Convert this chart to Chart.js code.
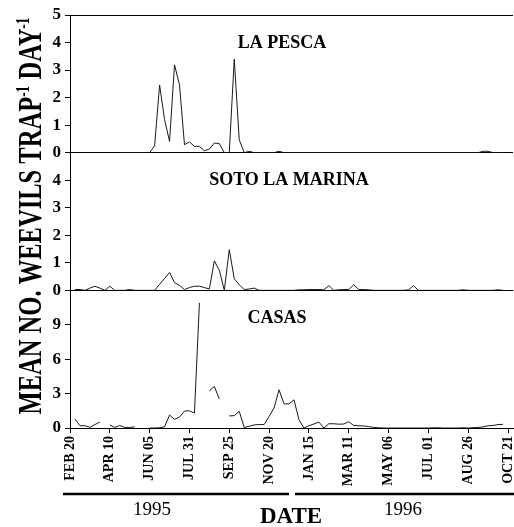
<!DOCTYPE html>
<html>
<head>
<meta charset="utf-8">
<script src="https://cdn.jsdelivr.net/npm/chart.js@4.4.0/dist/chart.umd.min.js"></script>
<style>
  html, body { margin: 0; padding: 0; background: #fff; }
  canvas { display: block; }
</style>
</head>
<body>
<canvas id="weevils" width="514" height="527"></canvas>
<script>
// date axis labels, one every 8 weeks from 20 Feb 1995
const dateLabels = ['FEB 20', 'APR 10', 'JUN 05', 'JUL 31', 'SEP 25', 'NOV 20',
                    'JAN 15', 'MAR 11', 'MAY 06', 'JUL 01', 'AUG 26', 'OCT 21'];
const yearLabels = ['1995', '1996'];
const panelNames = ['LA PESCA', 'SOTO LA MARINA', 'CASAS'];

// weekly means, week 0 = FEB 20 1995, null = no sample
const laPesca = [
  null, null, null, null, null, null, null, null, null, null,
  0, 0, 0, 0, 0, 0, 0, 0.25, 2.46, 1.2,
  0.41, 3.19, 2.46, 0.29, 0.39, 0.23, 0.23, 0.07, 0.13, 0.35,
  0.33, 0, 0, 3.4, 0.47, 0, 0.05, 0, 0, 0,
  0, 0, 0.05, 0, 0, 0, 0, 0, 0, 0,
  0, 0, 0, 0, 0, 0, 0, 0, 0, 0,
  0, 0, 0, 0, 0, 0, 0, 0, 0, 0,
  0, 0, 0, 0, 0, 0, 0, 0, 0, 0,
  0, 0, 0, 0.05, 0.05, 0, 0, 0
];
const sotoLaMarina = [
  null, 0.03, 0.03, 0, 0.08, 0.15, 0.08, 0, 0.15, 0,
  0, 0, 0.03, 0, 0, 0, 0, 0, 0.22, 0.43,
  0.65, 0.28, 0.18, 0.03, 0.1, 0.15, 0.15, 0.1, 0.05, 1.07,
  0.73, 0, 1.48, 0.42, 0.2, 0.03, 0.05, 0.08, 0, 0,
  0, 0, 0, 0, 0, 0, 0.02, 0.02, 0.03, 0.03,
  0.03, 0.02, 0.17, 0, 0.02, 0.03, 0.03, 0.2, 0.03, 0.03,
  0.02, 0, 0, 0, 0, 0, 0, 0, 0.02, 0.17,
  0, 0, 0, 0, 0, 0, 0, 0, 0, 0.02,
  0, 0, 0, 0, 0, 0, 0.02, 0
];
const casas = [
  null, 0.78, 0.2, 0.2, 0.05, 0.3, 0.52, null, 0.26, 0.05,
  0.22, 0.05, 0.05, 0.1, null, null, 0, 0, 0.02, 0.1,
  1.13, 0.75, 0.95, 1.48, 1.5, 1.3, 10.9, null, 3.24, 3.62,
  2.52, null, 1.05, 1.08, 1.45, 0.05, 0.15, 0.27, 0.3, 0.3,
  1.0, 1.75, 3.33, 2.1, 2.1, 2.46, 0.72, 0, 0.2, 0.35,
  0.52, 0, 0.37, 0.37, 0.33, 0.35, 0.55, 0.22, 0.2, 0.18,
  0.12, 0.06, 0.02, 0, 0, 0, 0, 0, 0, 0,
  0, 0, 0, 0.02, 0.02, 0, 0, 0, 0, 0.02,
  0, 0.03, 0.05, 0.1, 0.2, 0.22, 0.3, 0.32
];

const serif = "'Liberation Serif', 'Times New Roman', serif";
Chart.defaults.font.family = serif;
Chart.defaults.color = '#000';

function toPoints(values) {
  return values.map((v, i) => ({ x: i, y: v }));
}

function panelAxis(max, step, showMax) {
  return {
    type: 'linear',
    position: 'left',
    stack: 'panels',
    stackWeight: 1,
    min: 0,
    max: max,
    ticks: {
      stepSize: step,
      autoSkip: false,
      padding: 4,
      font: { size: 17, weight: 'bold' },
      callback: v => (v === max && !showMax) ? '' : v
    },
    grid: {
      drawOnChartArea: true,
      tickLength: 5,
      tickColor: '#000',
      color: c => (c.tick && (c.tick.value === 0 || (showMax && c.tick.value === max))) ? '#000' : 'rgba(0,0,0,0)'
    },
    border: { display: true, color: '#000', width: 1 },
    afterFit: s => { s.width = 70; s.paddingTop = 0; s.paddingBottom = 0; }
  };
}

// titles, year bars and the rotated y title
const decorations = {
  id: 'decorations',
  afterDraw(chart) {
    const ctx = chart.ctx;
    const area = chart.chartArea;
    const xs = chart.scales.x;
    ctx.save();
    ctx.fillStyle = '#000';
    ctx.strokeStyle = '#000';

    // panel names
    ctx.font = 'bold 18px ' + serif;
    ctx.textAlign = 'center';
    ctx.textBaseline = 'middle';
    const axes = ['yPesca', 'ySoto', 'yCasas'];
    const centres = [282, 289, 277];
    axes.forEach((id, i) => {
      const s = chart.scales[id];
      ctx.fillText(panelNames[i], centres[i], s.top + 28);
    });

    // year bars under the date labels
    const split = xs.getPixelForValue(44.6);
    const barY = area.bottom + 66;
    ctx.lineWidth = 2.5;
    ctx.beginPath();
    ctx.moveTo(area.left - 7, barY);
    ctx.lineTo(split - 3, barY);
    ctx.moveTo(split + 3, barY);
    ctx.lineTo(chart.width, barY);
    ctx.stroke();

    ctx.font = '19px ' + serif;
    ctx.textBaseline = 'alphabetic';
    ctx.fillText(yearLabels[0], 152, barY + 21);
    ctx.fillText(yearLabels[1], 403, barY + 21);

    ctx.font = 'bold 23px ' + serif;
    ctx.fillText('DATE', 291, barY + 29);

    // y title with superscripts
    const parts = [['MEAN NO. WEEVILS TRAP', false], ['-1', true], [' DAY', false], ['-1', true]];
    const big = 'bold 33px ' + serif;
    const small = 'bold 18px ' + serif;
    let total = 0;
    parts.forEach(p => { ctx.font = p[1] ? small : big; total += ctx.measureText(p[0]).width; });
    const span = 397;
    const squeeze = span / total;
    ctx.translate(30, 216);
    ctx.rotate(-Math.PI / 2);
    ctx.scale(squeeze, 1);
    ctx.textAlign = 'left';
    let x = -total / 2;
    parts.forEach(p => {
      ctx.font = p[1] ? small : big;
      ctx.fillText(p[0], x, p[1] ? -1 : 11);
      x += ctx.measureText(p[0]).width;
    });
    ctx.restore();
  }
};

new Chart(document.getElementById('weevils'), {
  type: 'line',
  data: {
    datasets: [
      { label: panelNames[0], data: toPoints(laPesca), yAxisID: 'yPesca' },
      { label: panelNames[1], data: toPoints(sotoLaMarina), yAxisID: 'ySoto' },
      { label: panelNames[2], data: toPoints(casas), yAxisID: 'yCasas', spanGaps: false }
    ]
  },
  options: {
    responsive: false,
    animation: false,
    devicePixelRatio: 1,
    layout: { padding: { top: 15, right: 1, left: 0, bottom: 0 } },
    elements: {
      line: { borderColor: '#1a1a1a', borderWidth: 1, tension: 0 },
      point: { radius: 0 }
    },
    plugins: { legend: { display: false }, tooltip: { enabled: false } },
    scales: {
      x: {
        type: 'linear',
        min: 0,
        max: 89,
        ticks: {
          stepSize: 8,
          includeBounds: false,
          autoSkip: false,
          minRotation: 90,
          maxRotation: 90,
          padding: 3,
          font: { size: 14, weight: 'bold' },
          callback: v => dateLabels[v / 8] || ''
        },
        grid: { drawOnChartArea: false, color: '#000', tickLength: 5 },
        border: { color: '#000', width: 1 },
        afterFit: s => { s.height = 99; s.paddingLeft = 0; s.paddingRight = 0; }
      },
      yCasas: panelAxis(12, 3, false),
      ySoto: panelAxis(5, 1, false),
      yPesca: panelAxis(5, 1, true)
    }
  },
  plugins: [decorations]
});
</script>
</body>
</html>
